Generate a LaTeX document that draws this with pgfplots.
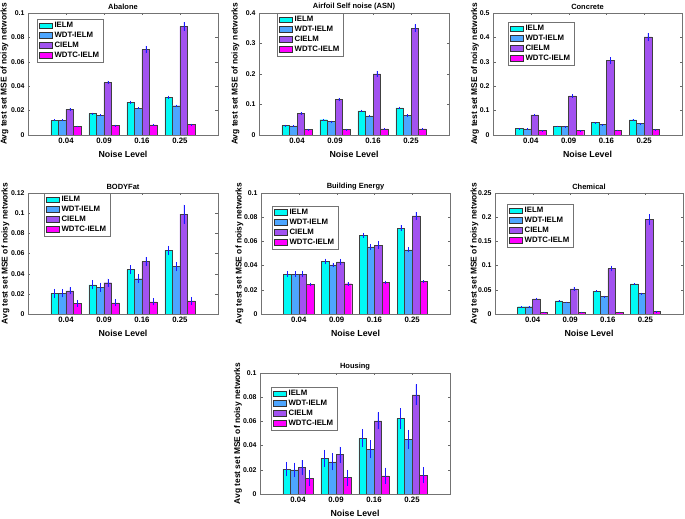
\documentclass[border=0pt]{standalone}
\usepackage{fontspec}
\setmainfont{Liberation Sans}
\usepackage{pgfplots}
\usepackage{pgfplotstable}
\pgfplotsset{compat=1.18}
\definecolor{cIELM}{RGB}{0,250,245}
\definecolor{cWDT}{RGB}{77,166,255}
\definecolor{cCI}{RGB}{162,82,240}
\definecolor{cWDTC}{RGB}{255,0,255}

\pgfplotstableread{
x y1 e1 y2 e2 y3 e3 y4 e4
1 0.012 0.0008 0.012 0.0009 0.021 0.0012 0.007 0.0007
2 0.0175 0.0008 0.016 0.0008 0.043 0.0015 0.0077 0.0008
3 0.027 0.0012 0.022 0.0009 0.070 0.0030 0.0083 0.0009
4 0.031 0.0012 0.024 0.0009 0.089 0.0035 0.0086 0.0008
}\abalone
\pgfplotstableread{
x y1 e1 y2 e2 y3 e3 y4 e4
1 0.031 0.003 0.030 0.003 0.070 0.004 0.018 0.002
2 0.050 0.003 0.044 0.003 0.117 0.005 0.018 0.002
3 0.079 0.004 0.063 0.003 0.200 0.010 0.020 0.002
4 0.089 0.004 0.064 0.004 0.350 0.013 0.020 0.002
}\airfoil
\pgfplotstableread{
x y1 e1 y2 e2 y3 e3 y4 e4
1 0.026 0.002 0.025 0.002 0.082 0.005 0.018 0.002
2 0.036 0.002 0.034 0.002 0.160 0.007 0.018 0.002
3 0.051 0.002 0.043 0.002 0.305 0.014 0.020 0.002
4 0.062 0.002 0.047 0.002 0.402 0.016 0.022 0.002
}\concrete
\pgfplotstableread{
x y1 e1 y2 e2 y3 e3 y4 e4
1 0.0205 0.0045 0.0205 0.004 0.023 0.0035 0.0105 0.0035
2 0.029 0.0045 0.0265 0.0045 0.031 0.004 0.011 0.0035
3 0.044 0.0045 0.035 0.0045 0.052 0.0045 0.012 0.0035
4 0.063 0.0045 0.047 0.0045 0.099 0.0095 0.013 0.004
}\bodyfat
\pgfplotstableread{
x y1 e1 y2 e2 y3 e3 y4 e4
1 0.033 0.0025 0.033 0.0025 0.033 0.0028 0.0245 0.0015
2 0.0435 0.0022 0.0405 0.002 0.043 0.0025 0.025 0.0015
3 0.065 0.002 0.0555 0.0025 0.057 0.003 0.026 0.0015
4 0.071 0.0025 0.053 0.002 0.081 0.0035 0.027 0.001
}\building
\pgfplotstableread{
x y1 e1 y2 e2 y3 e3 y4 e4
1 0.015 0.0015 0.015 0.0012 0.031 0.003 0.004 0.001
2 0.027 0.0015 0.024 0.0015 0.052 0.004 0.004 0.001
3 0.047 0.002 0.036 0.002 0.094 0.006 0.004 0.001
4 0.062 0.002 0.042 0.002 0.195 0.011 0.005 0.0012
}\chemical
\pgfplotstableread{
x y1 e1 y2 e2 y3 e3 y4 e4
1 0.0205 0.006 0.020 0.006 0.022 0.006 0.013 0.0065
2 0.0295 0.007 0.0265 0.007 0.0325 0.0065 0.0135 0.0065
3 0.046 0.0075 0.037 0.0075 0.0605 0.007 0.015 0.0068
4 0.0625 0.0085 0.045 0.0080 0.082 0.0085 0.0155 0.0068
}\housing

\pgfplotsset{
  every axis plot post/.append style={legend image code/.code={\draw[##1,draw=black!80] (0pt,-2.9pt) rectangle (13pt,2.9pt);}},
  errs/.style={draw=black!75, line width=0.4pt, error bars/.cd, y dir=both, y explicit, error mark=none, error bar style={blue!90, line width=0.5pt}},
  s1/.style={fill=cIELM, bar shift=-0.3, errs},
  s2/.style={fill=cWDT, bar shift=-0.1, errs},
  s3/.style={fill=cCI, bar shift=0.1, errs},
  s4/.style={fill=cWDTC, bar shift=0.3, errs},
  panel/.style={
    scale only axis, anchor=south west,
    xmin=0, xmax=5, ymin=0,
    xtick={1,2,3,4}, xticklabels={0.04,0.09,0.16,0.25},
    ybar, bar width=0.2,
    axis line style={black!55},
    tick style={black!60},
    major tick length=2.5pt,
    tick align=inside,
    scaled y ticks=false,
    yticklabel style={/pgf/number format/fixed, /pgf/number format/precision=2},
    /pgf/number format/assume math mode=true,
    xticklabel style={font=\bfseries\fontsize{7.8}{9}\selectfont},
    yticklabel style={font=\bfseries\fontsize{6.9}{8}\selectfont},
    xlabel style={font=\bfseries\fontsize{8.8}{10}\selectfont},
    every axis y label/.style={at={(axis description cs:-0.12,0.5)}, rotate=90, anchor=center, font=\bfseries\fontsize{8.4}{10}\selectfont},
    title style={font=\bfseries\fontsize{7.5}{9}\selectfont, yshift=-6.5pt},
    xlabel={Noise Level}, ylabel={Avg test set MSE of noisy networks},
    legend style={draw=black!55, fill=white, font=\bfseries\fontsize{7.8}{9}\selectfont,
      inner xsep=2pt, inner ysep=1pt, row sep=-1pt, cells={anchor=west}, anchor=north west},
  },
}

\newcommand{\panel}[9]{%
\begin{axis}[panel, at={(#3pt,#4pt)}, width=#5pt, height=#6pt, title={#2}, ymax=#7, ytick={#8}, #9]
\addplot[s1] table[x=x,y=y1,y error=e1]{#1};
\addplot[s2] table[x=x,y=y2,y error=e2]{#1};
\addplot[s3] table[x=x,y=y3,y error=e3]{#1};
\addplot[s4] table[x=x,y=y4,y error=e4]{#1};
\legend{IELM,WDT-IELM,CIELM,WDTC-IELM}
\end{axis}}

\begin{document}
\begin{tikzpicture}
\useasboundingbox (0pt,0pt) rectangle (685pt,519pt);
\panel{\abalone}{Abalone}{28}{384}{190}{122}{0.1}{0,0.02,0.04,0.06,0.08,0.1}{legend style={at={(0.047,0.951)}}, ylabel style={at={(axis description cs:-0.124,0.5)}}}
\panel{\airfoil}{Airfoil Self noise (ASN)}{259}{384}{190}{122}{0.4}{0,0.1,0.2,0.3,0.4}{legend style={at={(0.095,1.0)}}, ylabel style={at={(axis description cs:-0.124,0.5)}}}
\panel{\concrete}{Concrete}{493}{384}{189}{122}{0.5}{0,0.1,0.2,0.3,0.4,0.5}{legend style={at={(0.079,0.926)}}, ylabel style={at={(axis description cs:-0.095,0.5)}}}
\panel{\bodyfat}{BODYFat}{28}{205}{190}{121}{0.12}{0,0.02,0.04,0.06,0.08,0.1,0.12}{legend style={at={(0.084,1.0)}}, ylabel style={at={(axis description cs:-0.118,0.5)}}}
\panel{\building}{Building Energy}{261}{205}{189}{121}{0.1}{0,0.02,0.04,0.06,0.08,0.1}{legend style={at={(0.058,0.893)}}, ylabel style={at={(axis description cs:-0.114,0.5)}}}
\panel{\chemical}{Chemical}{495}{205}{188}{121}{0.25}{0,0.05,0.1,0.15,0.2,0.25}{legend style={at={(0.064,0.909)}}, ylabel style={at={(axis description cs:-0.109,0.5)}}}
\panel{\housing}{Housing}{260}{25}{190}{121}{0.1}{0,0.02,0.04,0.06,0.08,0.1}{legend style={at={(0.058,0.884)}}, ylabel style={at={(axis description cs:-0.116,0.5)}}}
\end{tikzpicture}
\end{document}
